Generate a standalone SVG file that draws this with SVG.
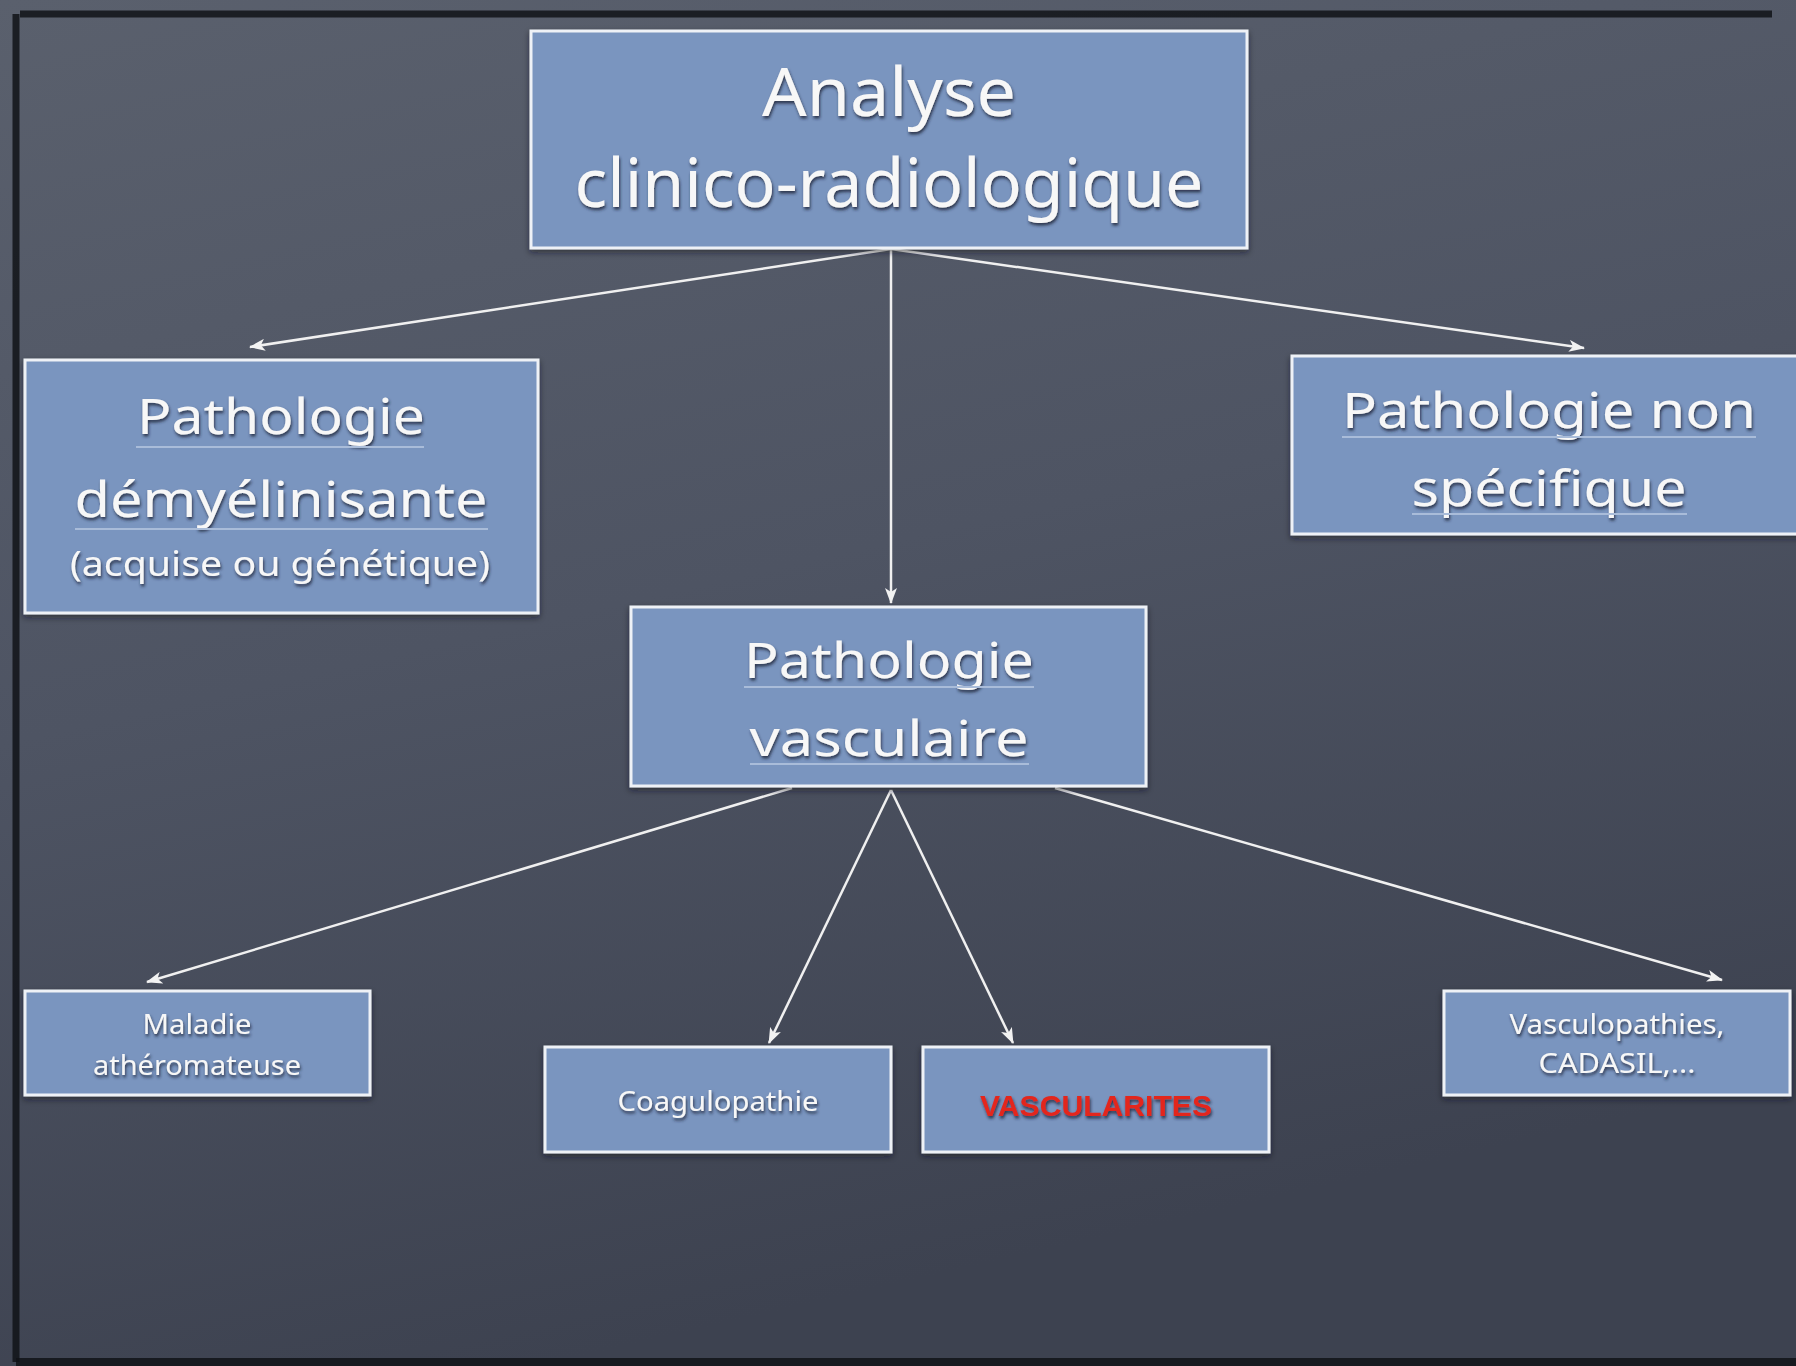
<svg xmlns="http://www.w3.org/2000/svg" width="1796" height="1366" viewBox="0 0 1796 1366">
<defs>
<linearGradient id="bg" x1="0" y1="0" x2="0.3" y2="1">
<stop offset="0" stop-color="#5a606d"/>
<stop offset="0.5" stop-color="#4e5463"/>
<stop offset="1" stop-color="#3d4250"/>
</linearGradient>
<filter id="ts" x="-10%" y="-30%" width="120%" height="160%">
<feDropShadow dx="1" dy="2.5" stdDeviation="1.5" flood-color="#1e2638" flood-opacity="0.85"/>
</filter>
<filter id="bs" x="-5%" y="-10%" width="110%" height="125%">
<feDropShadow dx="0" dy="3" stdDeviation="3" flood-color="#10141c" flood-opacity="0.55"/>
</filter>
<marker id="arr" viewBox="0 0 16 12" refX="15" refY="6" markerWidth="16" markerHeight="12" markerUnits="userSpaceOnUse" orient="auto">
<path d="M0,0 L16,6 L0,12 L4,6 Z" fill="#f2f2f2"/>
</marker>
</defs>
<style>
.box{fill:#7a95bf;stroke:#eef1f6;stroke-width:3;filter:url(#bs)}
.t{font-family:"Noto Sans","DejaVu Sans",sans-serif;fill:#f7f7f7;text-anchor:middle;filter:url(#ts)}
.big{font-size:68px}
.mid{font-size:50px}
.sm2{font-size:34px}
.small{font-size:27px}
.red{font-family:"Liberation Sans",Arial,sans-serif;font-weight:bold;fill:#e3261f;font-size:30px;text-anchor:middle;filter:url(#ts)}
.ul{stroke:#a9bcd9;stroke-width:2;fill:none}
.con{stroke:#f0f0f0;stroke-width:2.5;fill:none;marker-end:url(#arr)}
.frame{stroke:#111318;fill:none}
</style>
<rect x="0" y="0" width="1796" height="1366" fill="url(#bg)"/>
<path class="frame" d="M20,14 L1772,14" stroke-width="7" opacity="0.85"/>
<path class="frame" d="M16,14 L16,1362" stroke-width="7" opacity="0.85"/>
<path class="frame" d="M16,1362 L1796,1362" stroke-width="8" opacity="0.85"/>

<g id="connectors">
<line class="con" x1="891" y1="249" x2="250" y2="347"/>
<line class="con" x1="891" y1="249" x2="891" y2="603"/>
<line class="con" x1="891" y1="249" x2="1584" y2="348"/>
<line class="con" x1="792" y1="788" x2="147" y2="982"/>
<line class="con" x1="891" y1="790" x2="769" y2="1043"/>
<line class="con" x1="891" y1="790" x2="1013" y2="1043"/>
<line class="con" x1="1055" y1="788" x2="1722" y2="980"/>
</g>

<g id="analyse">
<rect class="box" x="531" y="31" width="716" height="217"/>
<text class="t big" x="889" y="116" textLength="254" lengthAdjust="spacingAndGlyphs">Analyse</text>
<text class="t big" x="889" y="207" textLength="629" lengthAdjust="spacingAndGlyphs">clinico-radiologique</text>
</g>

<g id="demyelinisante">
<rect class="box" x="25" y="360" width="513" height="253"/>
<text class="t mid" x="281" y="434" textLength="288" lengthAdjust="spacingAndGlyphs">Pathologie</text>
<line class="ul" x1="136" y1="447" x2="424" y2="447"/>
<text class="t mid" x="281" y="517" textLength="413" lengthAdjust="spacingAndGlyphs">démyélinisante</text>
<line class="ul" x1="75" y1="529" x2="488" y2="529"/>
<text class="t sm2" x="280" y="576" textLength="420" lengthAdjust="spacingAndGlyphs">(acquise ou génétique)</text>
</g>

<g id="non-specifique">
<rect class="box" x="1292" y="356" width="520" height="178"/>
<text class="t mid" x="1549" y="428" textLength="414" lengthAdjust="spacingAndGlyphs">Pathologie non</text>
<line class="ul" x1="1342" y1="437" x2="1756" y2="437"/>
<text class="t mid" x="1549" y="506" textLength="275" lengthAdjust="spacingAndGlyphs">spécifique</text>
<line class="ul" x1="1412" y1="514" x2="1687" y2="514"/>
</g>

<g id="vasculaire">
<rect class="box" x="631" y="607" width="515" height="179"/>
<text class="t mid" x="889" y="678" textLength="290" lengthAdjust="spacingAndGlyphs">Pathologie</text>
<line class="ul" x1="744" y1="687" x2="1034" y2="687"/>
<text class="t mid" x="889" y="756" textLength="279" lengthAdjust="spacingAndGlyphs">vasculaire</text>
<line class="ul" x1="750" y1="764" x2="1029" y2="764"/>
</g>

<g id="atheromateuse">
<rect class="box" x="25" y="991" width="345" height="104"/>
<text class="t small" x="197" y="1034" textLength="109" lengthAdjust="spacingAndGlyphs">Maladie</text>
<text class="t small" x="197" y="1075" textLength="208" lengthAdjust="spacingAndGlyphs">athéromateuse</text>
</g>

<g id="coagulopathie">
<rect class="box" x="545" y="1047" width="346" height="105"/>
<text class="t small" x="718" y="1111" textLength="201" lengthAdjust="spacingAndGlyphs">Coagulopathie</text>
</g>

<g id="vascularites">
<rect class="box" x="923" y="1047" width="346" height="105"/>
<text class="red" x="1096" y="1116" textLength="232" lengthAdjust="spacingAndGlyphs">VASCULARITES</text>
</g>

<g id="vasculopathies">
<rect class="box" x="1444" y="991" width="346" height="104"/>
<text class="t small" x="1617" y="1034" textLength="215" lengthAdjust="spacingAndGlyphs">Vasculopathies,</text>
<text class="t small" x="1617" y="1073" textLength="157" lengthAdjust="spacingAndGlyphs">CADASIL,...</text>
</g>
</svg>
